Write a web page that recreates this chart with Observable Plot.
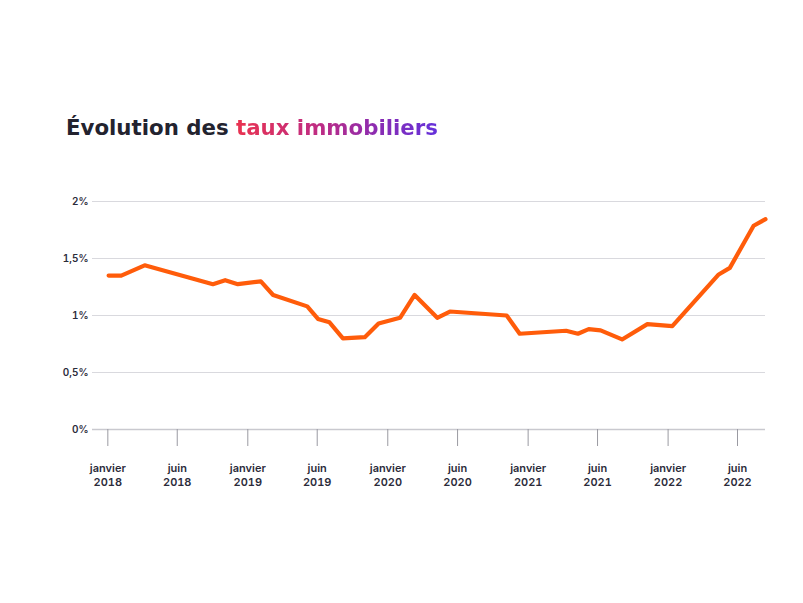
<!DOCTYPE html>
<html>
<head>
<meta charset="utf-8">
<script src="https://cdn.jsdelivr.net/npm/d3@7"></script>
<script src="https://cdn.jsdelivr.net/npm/@observablehq/plot@0.6"></script>
<style>
  html, body { margin: 0; padding: 0; background: #fff; }
  body { width: 803px; height: 603px; position: relative; overflow: hidden; font-family: Inter, "Noto Sans", sans-serif; }
  #title { position: absolute; left: 66px; top: 117px; margin: 0; font-family: "DejaVu Sans", Inter, sans-serif; font-size: 21.3px; line-height: 22px; font-weight: 700; color: #23232f; white-space: nowrap; }
  #title .grad { background: linear-gradient(90deg, #e93350 0%, #c02c82 40%, #8a2cb2 70%, #6431db 100%); -webkit-background-clip: text; background-clip: text; color: transparent; }
  #chart { position: absolute; left: 0; top: 170px; }
</style>
</head>
<body>
<h2 id="title">Évolution des <span class="grad">taux immobiliers</span></h2>
<div id="chart"></div>
<script>
// Data
const dates = [
  "2018-01-03","2018-02-05","2018-04-07","2018-10-02","2018-11-03","2018-12-06",
  "2019-02-04","2019-03-08","2019-06-05","2019-07-03","2019-08-02","2019-09-06",
  "2019-11-02","2019-12-08","2020-02-02","2020-03-11","2020-05-09","2020-06-11",
  "2020-11-06","2020-12-10","2021-04-10","2021-05-11","2021-06-08","2021-07-09",
  "2021-09-03","2021-11-08","2022-01-12","2022-05-13","2022-06-11","2022-08-12",
  "2022-09-12"
];
const rates = [
  1.35, 1.35, 1.44, 1.275, 1.31, 1.275,
  1.30, 1.18, 1.08, 0.97, 0.94, 0.80,
  0.81, 0.93, 0.98, 1.18, 0.98, 1.035,
  1.00, 0.84, 0.866, 0.84, 0.88, 0.87,
  0.79, 0.924, 0.906, 1.36, 1.418, 1.787,
  1.845
];
const tickDates = ["2018-01-01","2018-07-01","2019-01-01","2019-07-01","2020-01-01",
                   "2020-07-01","2021-01-01","2021-07-01","2022-01-01","2022-07-01"];
const tickLabels = ["janvier\n2018","juin\n2018","janvier\n2019","juin\n2019","janvier\n2020",
                    "juin\n2020","janvier\n2021","juin\n2021","janvier\n2022","juin\n2022"];
const yTicks = [0, 0.5, 1, 1.5, 2];

const data = dates.map((d, i) => ({date: new Date(d + "T00:00:00Z"), rate: rates[i]}));
const tickDateObjs = tickDates.map(d => new Date(d + "T00:00:00Z"));
const labelFor = new Map(tickDateObjs.map((d, i) => [+d, tickLabels[i]]));

const chart = Plot.plot({
  width: 803,
  height: 340,
  marginLeft: 92,
  marginRight: 38,
  marginTop: 31,
  marginBottom: 81,
  style: {fontFamily: "Inter, 'Noto Sans', sans-serif", background: "transparent"},
  x: {type: "utc", domain: [new Date("2017-11-22T00:00:00Z"), new Date("2022-09-12T00:00:00Z")]},
  y: {domain: [0, 2]},
  marks: [
    Plot.gridY(yTicks, {stroke: "#d9d9de", strokeOpacity: 1, strokeWidth: 1}),
    Plot.ruleY([0], {stroke: "#c9c9cf", strokeWidth: 1.5}),
    Plot.axisY(yTicks, {
      tickSize: 0, tickPadding: 4, label: null,
      tickFormat: d => String(d).replace(".", ",") + "%",
      fontSize: 10, fontWeight: 600, fill: "#2b2b3a"
    }),
    Plot.axisX(tickDateObjs, {
      tickSize: 17, tickPadding: 16, label: null, stroke: "#9a9aa2",
      tickFormat: d => labelFor.get(+d),
      fontSize: 11, fontWeight: 600, fill: "#2b2b3a", lineHeight: 1.25
    }),
    Plot.line(data, {x: "date", y: "rate", stroke: "#ff5c0a", strokeWidth: 4.2, strokeLinejoin: "round", strokeLinecap: "round"})
  ]
});
document.getElementById("chart").appendChild(chart);
</script>
</body>
</html>
